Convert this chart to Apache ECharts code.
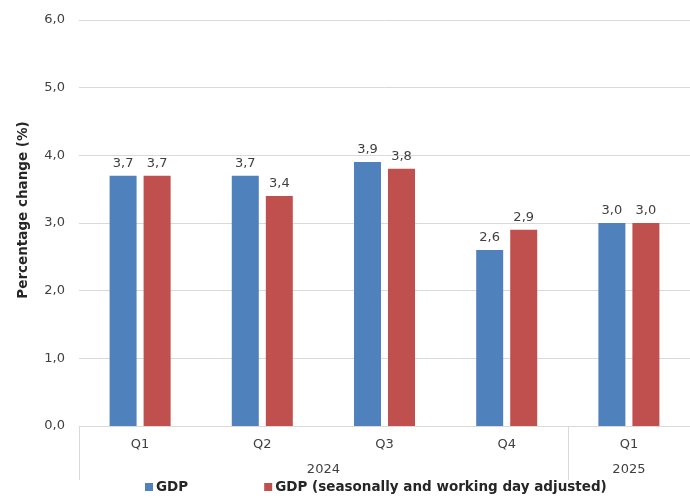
<!DOCTYPE html>
<html>
<head>
<meta charset="utf-8">
<script src="https://cdn.jsdelivr.net/npm/echarts@6/dist/echarts.min.js"></script>
<style>
  html, body { margin: 0; padding: 0; background: #fff; }
  #chart { width: 690px; height: 500px; }
</style>
</head>
<body>
<div id="chart"></div>
<script>
// Quarterly GDP growth, percentage change
const quarters = ['Q1', 'Q2', 'Q3', 'Q4', 'Q1'];
const years = [{ label: '2024', center: 2 }, { label: '2025', center: 4.5 }];
const yearBounds = [0, 4];
const gdp = [3.7, 3.7, 3.9, 2.6, 3.0];
const gdpAdjusted = [3.7, 3.4, 3.8, 2.9, 3.0];
const seriesNames = ['GDP', 'GDP (seasonally and working day adjusted)'];

const fmt = v => Number(v).toFixed(1).replace('.', ',');
const font = 'DejaVu Sans';
const textColor = '#404040';

const chart = echarts.init(document.getElementById('chart'), null, { renderer: 'canvas' });
const yearByValue = {};
years.forEach(y => { yearByValue[y.center] = y.label; });

chart.setOption({
  animation: false,
  textStyle: { fontFamily: font },
  grid: { left: 79, right: 0, top: 20, bottom: 74, containLabel: false },
  legend: {
    bottom: 1,
    left: 140,
    itemWidth: 8,
    itemHeight: 8,
    itemGap: 76,
    icon: 'rect',
    textStyle: { fontFamily: font, fontWeight: 'bold', fontSize: 13.5, color: '#262626', padding: [0, 0, 0, -2] },
    data: seriesNames
  },
  xAxis: [
    {
      type: 'category',
      data: quarters,
      axisLine: { show: true, lineStyle: { color: '#d9d9d9', width: 1 } },
      axisTick: { show: false },
      axisLabel: { color: textColor, fontSize: 13, margin: 12, fontFamily: font }
    },
    {
      type: 'value',
      min: 0,
      max: 5,
      position: 'bottom',
      splitLine: { show: false },
      axisLine: { show: false },
      axisTick: {
        show: true,
        customValues: yearBounds,
        length: 54,
        lineStyle: { color: '#d9d9d9', width: 1 }
      },
      axisLabel: {
        show: true,
        customValues: years.map(y => y.center),
        formatter: v => yearByValue[v] || '',
        margin: 37,
        color: textColor,
        fontSize: 13,
        fontFamily: font
      }
    }
  ],
  yAxis: {
    type: 'value',
    min: 0,
    max: 6,
    interval: 1,
    name: 'Percentage change (%)',
    nameLocation: 'middle',
    nameGap: 49,
    nameTextStyle: { fontFamily: font, fontWeight: 'bold', fontSize: 13.5, color: '#262626', padding: [0, 0, 0, 26] },
    axisLine: { show: false },
    axisTick: { show: false },
    axisLabel: { formatter: v => fmt(v), color: textColor, fontSize: 13, margin: 14, fontFamily: font },
    splitLine: { lineStyle: { color: '#d9d9d9', width: 1 } }
  },
  series: [
    {
      name: seriesNames[0],
      type: 'bar',
      data: gdp,
      barWidth: 27,
      barGap: '26%',
      itemStyle: { color: '#4f81bd' },
      label: { show: true, position: 'top', distance: 6, formatter: p => fmt(p.value), color: textColor, fontSize: 13, fontFamily: font }
    },
    {
      name: seriesNames[1],
      type: 'bar',
      data: gdpAdjusted,
      barWidth: 27,
      itemStyle: { color: '#c0504d' },
      label: { show: true, position: 'top', distance: 6, formatter: p => fmt(p.value), color: textColor, fontSize: 13, fontFamily: font }
    }
  ]
});
</script>
</body>
</html>
